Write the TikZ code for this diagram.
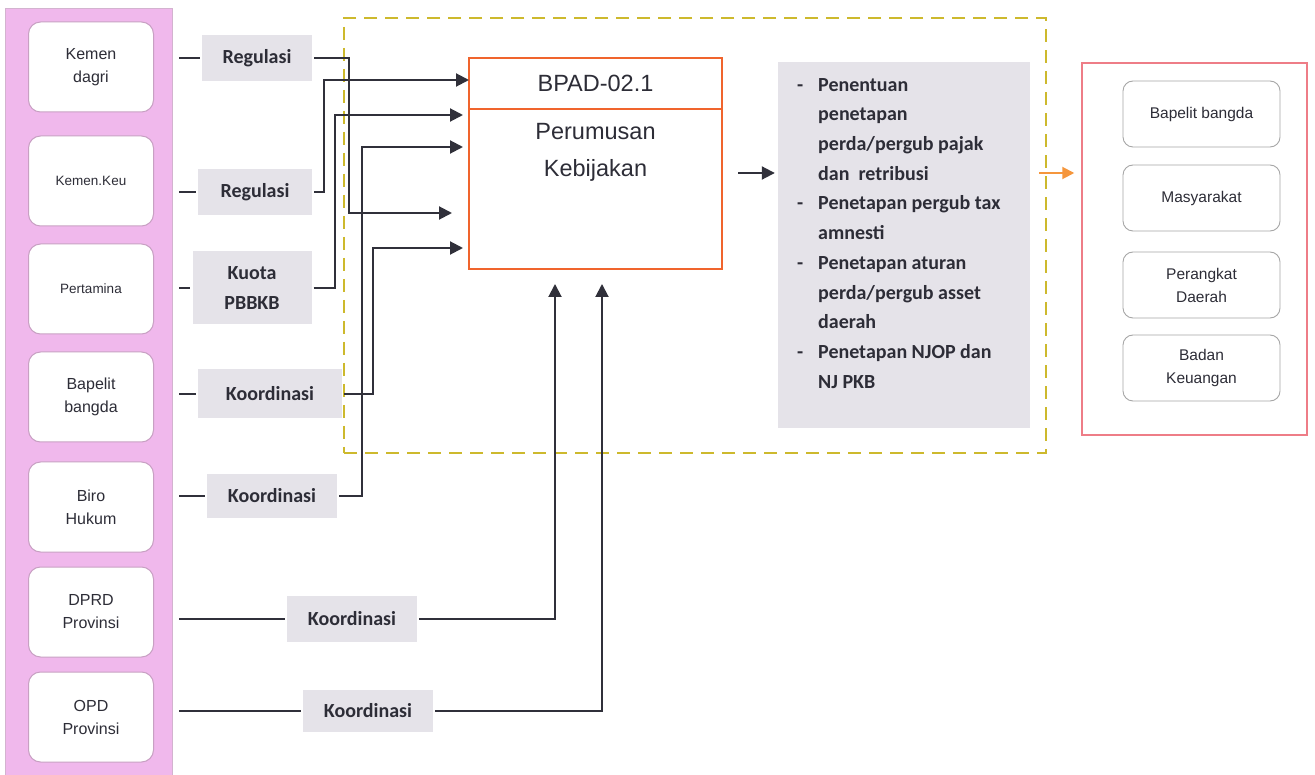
\documentclass[tikz,border=0pt]{standalone}
\usepackage{fontspec}
\setmainfont{Liberation Sans}
\newfontfamily\calibri{Carlito}
\usetikzlibrary{arrows.meta,positioning}

\definecolor{panelpink}{RGB}{240,184,236}
\definecolor{boxline}{RGB}{200,160,195}
\definecolor{labelgray}{RGB}{229,227,233}
\definecolor{linegray}{RGB}{48,48,58}
\definecolor{orangered}{RGB}{240,100,45}
\definecolor{olive}{RGB}{205,185,45}
\definecolor{rosered}{RGB}{238,125,135}
\definecolor{arrorange}{RGB}{245,150,60}
\definecolor{txtgray}{RGB}{45,45,55}

\newcommand{\guion}{\makebox[21pt][l]{-}}
\newcommand{\sangria}{\hspace*{21pt}}

\tikzset{
  entidad/.style={draw=boxline, line width=1pt, fill=white, rounded corners=12pt,
    minimum width=125pt, minimum height=90pt, align=center, text=txtgray,
    font=\fontsize{16}{23}\selectfont},
  etiqueta/.style={fill=labelgray, minimum width=130pt, minimum height=46pt,
    align=center, text=txtgray, font=\calibri\bfseries\fontsize{20}{30}\selectfont},
  conector/.style={draw=linegray, line width=2pt, shorten <=2pt},
  flecha/.style={conector, -{Triangle[length=13pt,width=13pt]}},
  proceso/.style={draw=orangered, line width=2pt, minimum width=253pt},
  destino/.style={draw=gray!70, line width=0.9pt, rounded corners=10pt,
    minimum width=157pt, minimum height=66pt, align=center, text=txtgray,
    font=\fontsize{15.5}{23}\selectfont}
}

\begin{document}
\begin{tikzpicture}[x=1pt, y=-1pt]
  \useasboundingbox (0,0) rectangle (1315,775);
  \fill[white] (0,0) rectangle (1315,775);

  % Panel de actores
  \node[fill=panelpink, draw=boxline!80, minimum width=167pt, minimum height=775pt,
    anchor=north west, inner sep=0pt] (panel) at (5,8) {};
  \foreach \nom/\yy/\txt in {kd/67/{Kemen\\dagri},
      kk/181/{\fontsize{13.5}{16}\selectfont Kemen.Keu},
      pert/289/{\fontsize{13.5}{16}\selectfont Pertamina},
      bb/397/{Bapelit\\bangda}, bh/507/{Biro\\Hukum},
      dp/612/{DPRD\\Provinsi}, op/717/{OPD\\Provinsi}}
    \node[entidad] (\nom) at (91,\yy) {\txt};

  % Alcance (linea discontinua)
  \node[draw=olive, line width=2pt, dash pattern=on 13pt off 8pt, minimum width=702pt,
    minimum height=435pt, anchor=north west, inner sep=0pt] (alcance) at (343,17) {};

  % Etiquetas de los flujos
  \node[etiqueta, minimum width=110pt] (reg1) at (257,58) {Regulasi};
  \node[etiqueta, minimum width=114pt] (reg2) at (255,192) {Regulasi};
  \node[etiqueta, minimum width=119pt, minimum height=73pt] (kuota) at (252,288) {Kuota\\PBBKB};
  \node[etiqueta, minimum width=144pt, minimum height=49pt] (koor1) at (270,394) {Koordinasi};
  \node[etiqueta, minimum height=44pt] (koor2) at (272,496) {Koordinasi};
  \node[etiqueta] (koor3) at (352,619) {Koordinasi};
  \node[etiqueta, minimum height=42pt] (koor4) at (368,711) {Koordinasi};

  \foreach \e in {reg1,reg2,kuota,koor1,koor2,koor3,koor4}
    \draw[conector, shorten <=7pt, shorten >=2pt] (\e.west -| panel.east) -- (\e.west);

  % Proceso
  \node[proceso, minimum height=51pt, text=txtgray, font=\fontsize{23.5}{26}\selectfont]
    (bpadid) at (595.5,83.5) {BPAD-02.1};
  \node[proceso, minimum height=160pt] (bpad) at (595.5,189) {};
  \node[below=15pt of bpad.north, inner sep=0pt, align=center, text=txtgray,
    font=\fontsize{23.5}{37}\selectfont] (bpadtxt) {Perumusan\\Kebijakan};

  % Entradas al proceso
  \coordinate (in1) at (469,80);
  \coordinate (in2) at (463,115);
  \coordinate (in3) at (463,147);
  \coordinate (in4) at (452,213);
  \coordinate (in5) at (463,248);
  \draw[flecha] (reg1.east) -- ++(37,0) |- (in4);
  \draw[flecha] (reg2.east) -- ++(12,0) |- (in1);
  \draw[flecha] (kuota.east) -- ++(23,0) |- (in2);
  \draw[flecha] (koor1.east) -- ++(31,0) |- (in5);
  \draw[flecha] (koor2.east) -- ++(25,0) |- (in3);
  \draw[flecha, shorten >=14pt] (koor3.east) -| ([xshift=-40.5pt]bpad.south);
  \draw[flecha, shorten >=14pt] (koor4.east) -| ([xshift=6.5pt]bpad.south);

  % Resultados
  \node[fill=labelgray, minimum width=252pt, minimum height=366pt] (lista) at (904,245) {};
  \node[anchor=north west, inner sep=0pt, align=left, text=txtgray,
    font=\calibri\bfseries\fontsize{20}{29.7}\selectfont] (listatxt) at (797,78) {%
    \guion Penentuan\\
    \sangria penetapan\\
    \sangria perda/pergub pajak\\
    \sangria dan \ retribusi\\
    \guion Penetapan pergub tax\\
    \sangria amnesti\\
    \guion Penetapan aturan\\
    \sangria perda/pergub asset\\
    \sangria daerah\\
    \guion Penetapan NJOP dan\\
    \sangria NJ PKB};
  \draw[flecha, shorten <=15pt, shorten >=3pt] (bpad.east |- 0,173) -- (lista.west |- 0,173);

  % Receptores
  \node[draw=rosered, line width=1.5pt, minimum width=225pt, minimum height=372pt]
    (receptor) at (1194.5,249) {};
  \foreach \nom/\yy/\txt in {r1/114/{Bapelit bangda}, r2/198/Masyarakat,
      r3/285/{Perangkat\\Daerah}, r4/368/{Badan\\Keuangan}}
    \node[destino] (\nom) at (1201.5,\yy) {\txt};
  \draw[draw=arrorange, line width=2pt, -{Triangle[length=12pt,width=12pt]}, shorten >=7pt]
    ([xshift=-8pt]alcance.east |- 0,173) -- (receptor.west |- 0,173);
\end{tikzpicture}
\end{document}
